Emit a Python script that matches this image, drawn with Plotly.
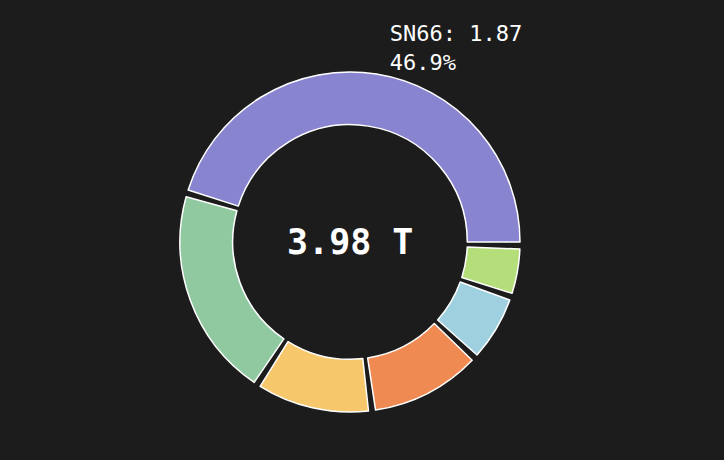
import plotly.graph_objects as go

labels = ["SN66", "SN51", "SN19", "SN8", "SN64", "SN4"]
values = [1.87, 0.82, 0.44, 0.43, 0.25, 0.175]
colors = ["#8884d0", "#90c9a0", "#f7c76b", "#ef8a52", "#9ed0e0", "#b3de7a"]
total_label = "3.98 T"

total = sum(values)
pad_deg = 2.4  # angular gap between slices
gap = pad_deg * total / (360 - len(values) * pad_deg)

# interleave real slices with transparent spacer slices
pie_labels, pie_values, pie_colors, line_w, texts = [], [], [], [], []
for i, (lab, v, c) in enumerate(zip(labels, values, colors)):
    pie_labels += [lab, f"gap{i}"]
    pie_values += [v, gap]
    pie_colors += [c, "rgba(0,0,0,0)"]
    line_w += [1.5, 0]
    if i == 0:
        line1 = f"{lab}: {v:.2f}"
        line2 = f"{v / total * 100:.1f}%"
        line2 += "\u00a0" * (len(line1) - len(line2))
        texts += [f"{line1}<br>{line2}", ""]
    else:
        texts += ["", ""]

grand = sum(pie_values)
# first slice should run counterclockwise from 3 o'clock
start = 90 - 360 * pie_values[0] / grand

dom_x = [0.0, 700 / 724]

fig = go.Figure(go.Pie(
    labels=pie_labels,
    values=pie_values,
    hole=0.69,
    sort=False,
    direction="counterclockwise",
    rotation=start,
    domain=dict(x=dom_x, y=[0, 1]),
    marker=dict(colors=pie_colors, line=dict(color="#ffffff", width=line_w)),
    text=texts,
    textinfo="text",
    textposition="outside",
    textfont=dict(family="DejaVu Sans Mono", size=22, color="#ffffff"),
    hoverinfo="skip",
    showlegend=False,
))

fig.add_annotation(
    text=f"<b>{total_label}</b>", x=sum(dom_x) / 2, y=0.5, xref="paper", yref="paper",
    xanchor="center", showarrow=False,
    font=dict(family="DejaVu Sans Mono", size=35, color="#ffffff"),
)

fig.update_layout(
    width=724, height=460,
    paper_bgcolor="#1c1c1c", plot_bgcolor="#1c1c1c",
    margin=dict(l=0, r=0, t=72, b=48, autoexpand=False),
)

fig.write_html("out.html", config={"displayModeBar": False},
               post_script="document.body.style.margin='0';")
